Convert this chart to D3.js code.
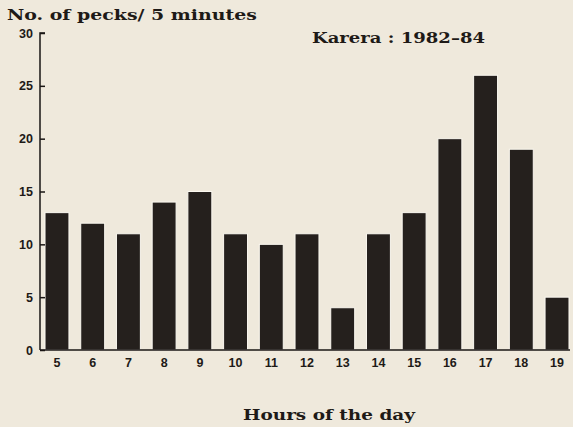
<!DOCTYPE html>
<html>
<head>
<meta charset="utf-8">
<script src="https://cdn.jsdelivr.net/npm/d3@7"></script>
<style>
  body { margin: 0; background: #efe9dc; }
  svg { display: block; }
</style>
</head>
<body>
<svg width="573" height="427"></svg>
<script>
let hours = ["5","6","7","8","9","10","11","12","13","14","15","16","17","18","19"];
let pecks = [13, 12, 11, 14, 15, 11, 10, 11, 4, 11, 13, 20, 26, 19, 5];
let yTicks = [0, 5, 10, 15, 20, 25, 30];

let svg = d3.select("svg"),
	axisLeft = 40,
	axisTop = 33,
	axisBottom = 350;

svg.append("rect")
	.attr("width", 573).attr("height", 427)
	.attr("fill", "#efe9dc");

let x = d3.scaleBand()
	.domain(hours)
	.range([39.3, 574.7])
	.paddingInner(0.33)
	.paddingOuter(0.16);

let y = d3.scaleLinear()
	.domain([0, 30])
	.range([axisBottom, axisTop]);

// bars
svg.append("g").selectAll("rect")
	.data(pecks)
	.enter().append("rect")
	.attr("x", (d, i) => x(hours[i]))
	.attr("y", d => y(d))
	.attr("width", x.bandwidth())
	.attr("height", d => axisBottom - y(d))
	.attr("fill", "#25201d")
	.attr("stroke", "#fbf8f0")
	.attr("stroke-width", 1);

// y axis
let yAxis = svg.append("g")
	.attr("transform", `translate(${axisLeft},0)`)
	.call(d3.axisRight(y).tickValues(yTicks).tickSize(5).tickFormat(""));
yAxis.select(".domain").attr("d", `M5,${axisTop}H0V${axisBottom}`);
yAxis.selectAll("line, path").attr("stroke", "#1a1614").attr("stroke-width", 1.5);

svg.append("g").selectAll("text")
	.data(yTicks)
	.enter().append("text")
	.attr("x", 33)
	.attr("y", d => y(d) + 4.5)
	.attr("text-anchor", "end")
	.attr("font-family", "Liberation Sans, Arial, sans-serif")
	.attr("font-weight", "bold")
	.attr("font-size", 12.5)
	.attr("fill", "#1e1a17")
	.text(d => d);

// x axis
let xAxis = svg.append("g")
	.attr("transform", `translate(0,${axisBottom})`)
	.call(d3.axisBottom(x).tickSize(0).tickPadding(8));
xAxis.select(".domain").attr("d", `M${axisLeft},0H570`)
	.attr("stroke", "#1a1614").attr("stroke-width", 1.5);
xAxis.selectAll("text")
	.attr("font-family", "Liberation Sans, Arial, sans-serif")
	.attr("font-weight", "bold")
	.attr("font-size", 12.5)
	.attr("fill", "#1e1a17");

// texts
let serif = "DejaVu Serif, Liberation Serif, serif";
let label = (tx, ty, txt, len) => svg.append("text")
	.attr("x", tx).attr("y", ty)
	.attr("font-family", serif).attr("font-weight", "bold").attr("font-size", 15)
	.attr("fill", "#1e1a17")
	.attr("textLength", len).attr("lengthAdjust", "spacingAndGlyphs")
	.text(txt);

label(7, 20, "No. of pecks/ 5 minutes", 250);
label(312, 43, "Karera : 1982\u201384", 173);
label(243, 420, "Hours of the day", 172);
</script>
</body>
</html>
